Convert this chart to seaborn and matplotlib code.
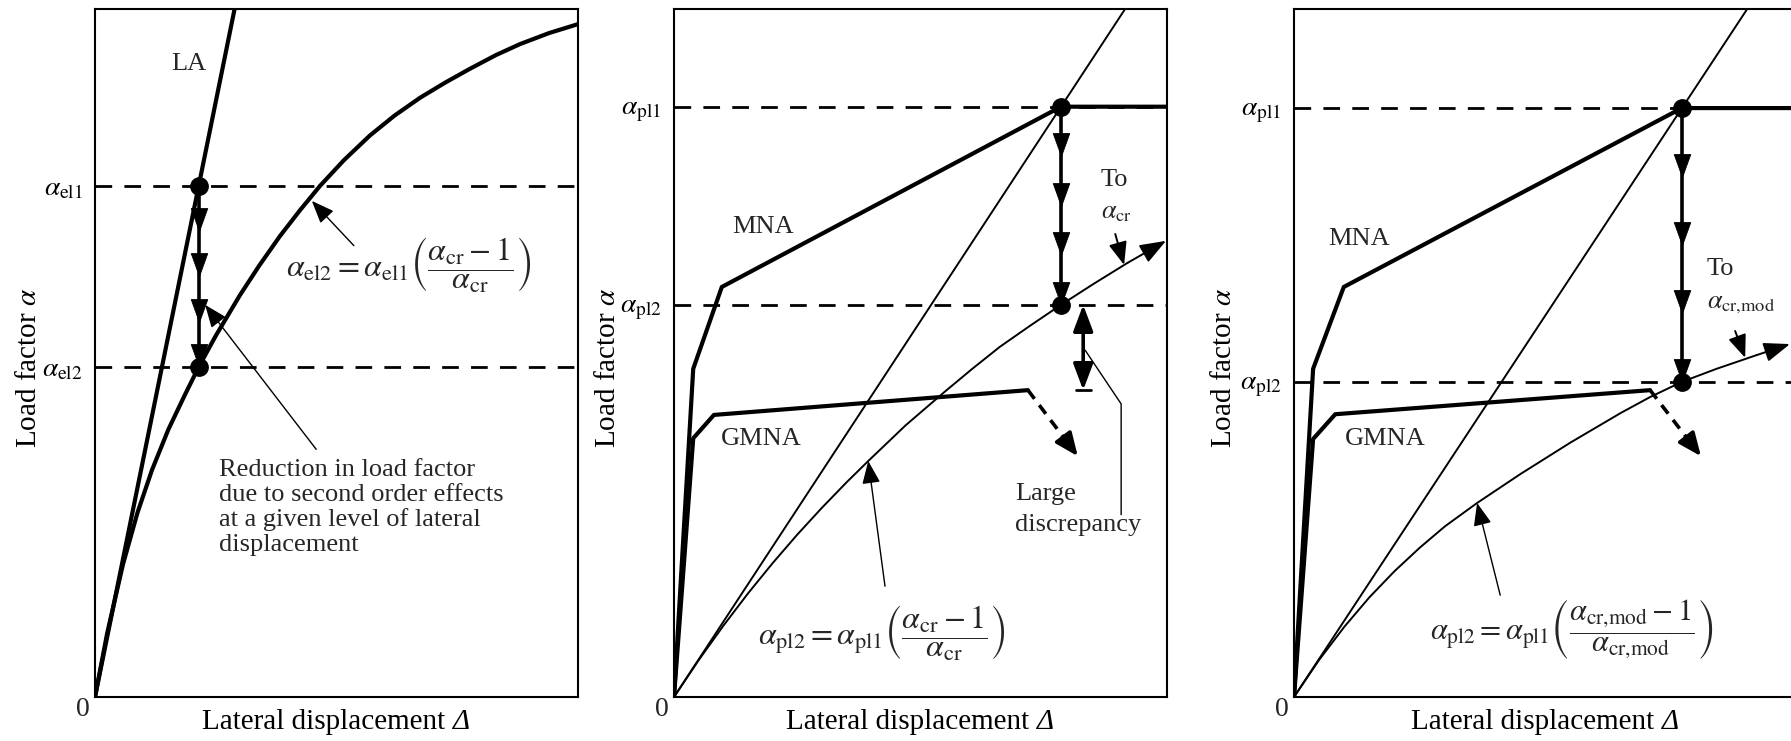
import numpy as np
import matplotlib
matplotlib.use("Agg")
import matplotlib.pyplot as plt
from matplotlib.path import Path
import seaborn as sns

sns.set_theme(style="white")
plt.rcParams["font.family"] = ["Liberation Serif", "DejaVu Serif"]
plt.rcParams["mathtext.fontset"] = "stix"

# ---------------- Panel 1: elastic behaviour ----------------
la_x = [0.0, 28.9]
la_y = [0.0, 100.0]
el_curve_x = [0, 2.5, 5.8, 8.8, 11.8, 15.2, 18.6, 21.5, 25.0, 30.0, 34.0, 38.3, 42.5,
              46.6, 51.5, 56.9, 62.0, 67.3, 72.5, 77.6, 83.0, 88.0, 94.0, 100]
el_curve_y = [0, 9.2, 19.3, 26.8, 33.0, 38.9, 43.9, 48.0, 52.5, 58.4, 62.7, 67.0, 70.8,
              74.3, 78.0, 81.6, 84.5, 87.1, 89.3, 91.3, 93.3, 94.9, 96.5, 97.8]
alpha_el1 = 74.3
alpha_el2 = 48.0
delta_el = 21.5

# ---------------- Panel 2: plastic behaviour with alpha_cr ----------------
p2_mna_x = [0, 3.9, 9.7, 78.5, 100]
p2_mna_y = [0, 47.7, 59.6, 85.8, 85.8]
p2_gmna_x = [0, 3.9, 8.1, 71.8]
p2_gmna_y = [0, 37.6, 41.0, 44.6]
p2_gmna_drop = [81.9, 35.0]
p2_line_x = [0, 91.5]
p2_line_y = [0, 100]
p2_curve_x = [0, 5, 10, 15, 20, 25, 30, 35, 39.4, 47.0, 54.8, 60.5, 66.1, 72.3, 78.5, 85.0, 92.0]
p2_curve_y = [0, 5.35, 10.35, 15.05, 19.45, 23.6, 27.5, 31.2, 34.3, 39.5, 44.3, 47.7, 50.9,
              54.0, 57.0, 60.0, 63.1]
p2_curve_tip = [99.8, 66.3]
alpha_pl1_b = 85.8
alpha_pl2_b = 57.0
delta_pl_b = 78.5

# ---------------- Panel 3: plastic behaviour with alpha_cr,mod ----------------
p3_mna_x = [0, 3.8, 9.9, 77.1, 100]
p3_mna_y = [0, 47.7, 59.6, 85.6, 85.6]
p3_gmna_x = [0, 3.8, 8.2, 70.8]
p3_gmna_y = [0, 37.5, 41.1, 44.6]
p3_gmna_drop = [80.9, 35.0]
p3_line_x = [0, 90.1]
p3_line_y = [0, 100]
p3_curve_x = [0, 5, 10, 15, 20, 25, 30, 36.4, 45.0, 55.0, 65.0, 70.8, 77.1, 84.0, 92.0]
p3_curve_y = [0, 5.4, 10.2, 14.5, 18.3, 21.7, 24.8, 28.2, 32.4, 37.0, 41.3, 43.6, 45.8, 47.7, 49.7]
p3_curve_tip = [98.6, 51.3]
alpha_pl1_c = 85.6
alpha_pl2_c = 45.8
delta_pl_c = 77.1

W, H = 1791, 741
fig = plt.figure(figsize=(W / 100, H / 100), dpi=100)

# downward arrowhead marker whose tip sits on the data point
HEAD = Path([(0, 0), (-0.36, 1), (0.36, 1), (0, 0)],
            [Path.MOVETO, Path.LINETO, Path.LINETO, Path.CLOSEPOLY])


def make_axes(left_px, width_px, ylab_x):
    ax = fig.add_axes([left_px / W, (H - 697) / H, width_px / W, 688 / H])
    ax.set_xlim(0, 100)
    ax.set_ylim(0, 100)
    ax.set_xticks([])
    for s in ax.spines.values():
        s.set_color("black")
        s.set_linewidth(1.5)
        s.set_visible(True)
    ax.set_facecolor("white")
    ax.tick_params(axis="y", length=0, pad=9, labelsize=20, colors="black")
    # x label: upright words followed by an italic Delta
    lab = ax.set_xlabel("Lateral displacement", fontsize=21, color="black")
    ax.xaxis.set_label_coords(0.5 - 13.0 / width_px, -0.018)
    ax.annotate("Δ", xy=(1, 0), xycoords=lab, xytext=(5.5, 0), textcoords="offset points",
                ha="left", va="bottom", fontsize=21, fontstyle="italic", color="black",
                annotation_clip=False)
    ax.set_ylabel(r"Load factor $\alpha$", fontsize=21, color="black")
    ax.yaxis.set_label_coords(ylab_x, 0.478)
    ax.annotate("0", xy=(0, 0), xycoords="axes fraction", xytext=(-9, -9),
                textcoords="offset points", ha="center", va="center", fontsize=20)
    return ax


def curve(ax, x, y, lw):
    sns.lineplot(x=x, y=y, ax=ax, color="black", lw=lw, sort=False, estimator=None,
                 legend=False)


DASH = (0, (6, 4.4))


def level(ax, y):
    ax.axhline(y, color="black", lw=2.0, ls=DASH, zorder=1)


def dot(ax, x, y):
    ax.plot([x], [y], "o", color="black", ms=12.5, zorder=7)


def chain(ax, x, y_top, y_bot, n=4):
    tips = np.linspace(y_top, y_bot, n + 1)[1:]
    ax.plot([x, x], [y_top, y_bot], color="black", lw=2.6, zorder=5,
            solid_capstyle="butt")
    ax.plot([x] * n, tips, ls="none", marker=HEAD, ms=33, color="black", mew=0.6,
            zorder=6)


def pointer(ax, tip, tail, lw=1.0, hl=0.7, hw=0.28):
    ax.annotate("", xy=tip, xytext=tail,
                arrowprops=dict(arrowstyle=f"-|>,head_length={hl},head_width={hw}",
                                mutation_scale=20, lw=lw, color="black",
                                shrinkA=0, shrinkB=0))


def drop_arrow(ax, start, end):
    sx, sy = start
    ex, ey = end
    mx, my = sx + 0.75 * (ex - sx), sy + 0.75 * (ey - sy)
    ax.plot([sx, mx], [sy, my], color="black", lw=2.6, ls=(0, (3, 2.2)))
    pointer(ax, (ex, ey), (mx, my), lw=2.6, hl=0.7, hw=0.3)


FS = 19

# ---------------- draw panel 1 ----------------
ax1 = make_axes(95, 483, -0.109)
level(ax1, alpha_el1)
level(ax1, alpha_el2)
curve(ax1, la_x, la_y, 3.0)
curve(ax1, el_curve_x, el_curve_y, 3.0)
ax1.set_yticks([alpha_el1, alpha_el2])
ax1.set_yticklabels([r"$\alpha_{\rm el1}$", r"$\alpha_{\rm el2}$"])
chain(ax1, delta_el, alpha_el1, alpha_el2)
dot(ax1, delta_el, alpha_el1)
dot(ax1, delta_el, alpha_el2)
ax1.text(19.5, 92.0, "LA", fontsize=FS, ha="center", va="center")
ax1.text(39.5, 62.8,
         r"$\alpha_{\rm el2} = \alpha_{\rm el1}\left(\dfrac{\alpha_{\rm cr}-1}{\alpha_{\rm cr}}\right)$",
         fontsize=23, ha="left", va="center")
pointer(ax1, (44.9, 72.1), (53.6, 65.6))
ax1.text(25.7, 34.6,
         "Reduction in load factor\ndue to second order effects\nat a given level of lateral\ndisplacement",
         fontsize=FS, ha="left", va="top", linespacing=1.15)
pointer(ax1, (22.8, 57.0), (45.8, 36.0))

# ---------------- draw panel 2 ----------------
ax2 = make_axes(674, 493, -0.108)
level(ax2, alpha_pl1_b)
level(ax2, alpha_pl2_b)
curve(ax2, p2_line_x, p2_line_y, 1.4)
curve(ax2, p2_curve_x, p2_curve_y, 1.4)
pointer(ax2, tuple(p2_curve_tip), (p2_curve_x[-1], p2_curve_y[-1]), lw=1.4, hl=0.8, hw=0.3)
curve(ax2, p2_mna_x, p2_mna_y, 3.0)
curve(ax2, p2_gmna_x, p2_gmna_y, 3.0)
drop_arrow(ax2, (p2_gmna_x[-1], p2_gmna_y[-1]), tuple(p2_gmna_drop))
ax2.set_yticks([alpha_pl1_b, alpha_pl2_b])
ax2.set_yticklabels([r"$\alpha_{\rm pl1}$", r"$\alpha_{\rm pl2}$"])
chain(ax2, delta_pl_b, alpha_pl1_b, alpha_pl2_b)
dot(ax2, delta_pl_b, alpha_pl1_b)
dot(ax2, delta_pl_b, alpha_pl2_b)
ax2.text(11.8, 68.3, "MNA", fontsize=FS, ha="left", va="center")
ax2.text(9.5, 37.5, "GMNA", fontsize=FS, ha="left", va="center")
ax2.text(86.6, 75.1, "To", fontsize=FS, ha="left", va="center")
ax2.text(86.6, 70.3, r"$\alpha_{\rm cr}$", fontsize=FS, ha="left", va="center")
pointer(ax2, (91.3, 62.8), (89.5, 67.3), lw=1.4)
ax2.annotate("", xy=(83.0, 44.6), xytext=(83.0, 57.0),
             arrowprops=dict(arrowstyle="<|-|>,head_length=0.8,head_width=0.3",
                             mutation_scale=20, lw=2.6, color="black", shrinkA=0, shrinkB=0))
ax2.plot([81.5, 84.5], [44.6, 44.6], color="black", lw=2.0)
ax2.plot([83.4, 90.7, 90.7], [50.4, 42.6, 26.5], color="black", lw=1.0)
ax2.text(69.2, 29.5, "Large", fontsize=FS, ha="left", va="center")
ax2.text(69.2, 25.0, "discrepancy", fontsize=FS, ha="left", va="center")
ax2.text(17.0, 9.2,
         r"$\alpha_{\rm pl2} = \alpha_{\rm pl1}\left(\dfrac{\alpha_{\rm cr}-1}{\alpha_{\rm cr}}\right)$",
         fontsize=23, ha="left", va="center")
pointer(ax2, (39.4, 34.3), (42.8, 16.1))

# ---------------- draw panel 3 ----------------
ax3 = make_axes(1294, 503, -0.113)
level(ax3, alpha_pl1_c)
level(ax3, alpha_pl2_c)
curve(ax3, p3_line_x, p3_line_y, 1.4)
curve(ax3, p3_curve_x, p3_curve_y, 1.4)
pointer(ax3, tuple(p3_curve_tip), (p3_curve_x[-1], p3_curve_y[-1]), lw=1.4, hl=0.8, hw=0.3)
curve(ax3, p3_mna_x, p3_mna_y, 3.0)
curve(ax3, p3_gmna_x, p3_gmna_y, 3.0)
drop_arrow(ax3, (p3_gmna_x[-1], p3_gmna_y[-1]), tuple(p3_gmna_drop))
ax3.set_yticks([alpha_pl1_c, alpha_pl2_c])
ax3.set_yticklabels([r"$\alpha_{\rm pl1}$", r"$\alpha_{\rm pl2}$"])
chain(ax3, delta_pl_c, alpha_pl1_c, alpha_pl2_c)
dot(ax3, delta_pl_c, alpha_pl1_c)
dot(ax3, delta_pl_c, alpha_pl2_c)
ax3.text(6.8, 66.6, "MNA", fontsize=FS, ha="left", va="center")
ax3.text(10.1, 37.5, "GMNA", fontsize=FS, ha="left", va="center")
ax3.text(82.1, 62.2, "To", fontsize=FS, ha="left", va="center")
ax3.text(82.1, 57.0, r"$\alpha_{\mathrm{cr{,}mod}}$", fontsize=FS, ha="left", va="center")
pointer(ax3, (89.7, 49.3), (87.7, 53.2), lw=1.4)
ax3.text(27.0, 9.9,
         r"$\alpha_{\rm pl2} = \alpha_{\rm pl1}\left(\dfrac{\alpha_{\mathrm{cr{,}mod}}-1}{\alpha_{\mathrm{cr{,}mod}}}\right)$",
         fontsize=22, ha="left", va="center")
pointer(ax3, (36.4, 28.2), (41.0, 14.8))

fig.savefig("out.png", dpi=100, facecolor="white")
